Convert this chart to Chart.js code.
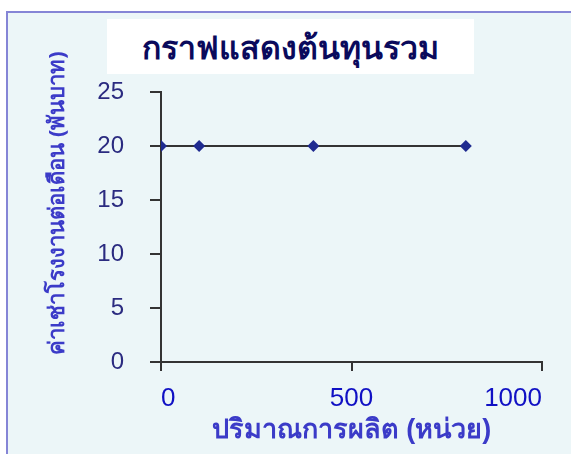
<!DOCTYPE html>
<html>
<head>
<meta charset="utf-8">
<script src="https://cdn.jsdelivr.net/npm/chart.js@4"></script>
<style>
  body { margin: 0; width: 571px; height: 454px; overflow: hidden; background: #fff; position: relative; }
  .frame { position: absolute; left: 6px; top: 11px; width: 600px; height: 500px; border: 2px solid #8585d6; background: #ecf6f8; }
  .title-box { position: absolute; left: 107px; top: 19px; width: 367px; height: 55px; background: #fff;
    font: bold 32px "Noto Sans", sans-serif; color: #0a0a5c; text-align: center; line-height: 55px; }
  .chart-wrap { position: absolute; left: 0; top: 0; width: 571px; height: 454px; }
</style>
</head>
<body>
<div class="frame"></div>
<div class="title-box">กราฟแสดงต้นทุนรวม</div>
<div class="chart-wrap"><canvas id="cost_chart" width="571" height="454"></canvas></div>
<script>
// ปริมาณการผลิต (หน่วย)
var units = [0, 100, 400, 800];
// ค่าเช่าโรงงานต่อเดือน (พันบาท)
var rent = [20, 20, 20, 20];
var xTicks = [0, 500, 1000];
var yTicks = [0, 5, 10, 15, 20, 25];
var yTitle = 'ค่าเช่าโรงงานต่อเดือน (พันบาท)';

var points = units.map(function (u, i) { return {x: u, y: rent[i]}; });

// y title sits a bit above the middle of the axis, like the original
const yTitlePlugin = {
    id: 'yTitle',
    afterDraw: function (chart) {
        const ctx = chart.ctx;
        ctx.save();
        ctx.translate(58, 203);
        ctx.rotate(-Math.PI / 2);
        ctx.font = 'bold 22px "Noto Sans", sans-serif';
        ctx.fillStyle = '#3b3bc8';
        ctx.textAlign = 'center';
        ctx.textBaseline = 'middle';
        ctx.fillText(yTitle, 0, 0);
        ctx.restore();
    }
};

const costChart = new Chart(document.getElementById('cost_chart'), {
    type: 'scatter',
    data: {
        datasets: [{
            data: points,
            showLine: true,
            borderColor: '#333333',
            borderWidth: 2,
            pointStyle: 'rectRot',
            pointRadius: 6,
            pointBackgroundColor: '#1f2b90',
            pointBorderColor: '#1f2b90',
            pointBorderWidth: 0
        }]
    },
    options: {
        responsive: false,
        animation: false,
        layout: {padding: {left: 49, top: 92, right: 29, bottom: 3}},
        plugins: {legend: {display: false}, tooltip: {enabled: false}},
        scales: {
            x: {
                type: 'linear', min: 0, max: 1000,
                afterBuildTicks: function (s) { s.ticks = xTicks.map(function (v) { return {value: v}; }); },
                afterFit: function (s) { s.height = 89; s.paddingLeft = 0; s.paddingRight = 0; },
                border: {color: '#333333', width: 2},
                grid: {drawOnChartArea: false, tickLength: 9, color: '#333333', lineWidth: 2},
                ticks: {color: '#1010c4', font: {family: 'Arial, "Liberation Sans"', size: 26}, padding: 12, maxRotation: 0,
                    align: 'inner', callback: function (v) { return String(v); }},
                title: {display: true, text: 'ปริมาณการผลิต (หน่วย)', color: '#3b3bc8', font: {size: 27, weight: 'bold'}}
            },
            y: {
                min: 0, max: 25,
                afterBuildTicks: function (s) { s.ticks = yTicks.map(function (v) { return {value: v}; }); },
                afterFit: function (s) { s.width = 112; s.paddingTop = 0; s.paddingBottom = 0; },
                border: {color: '#333333', width: 2},
                grid: {drawOnChartArea: false, tickLength: 11, color: '#333333', lineWidth: 2},
                ticks: {color: '#2b2b80', font: {family: 'Arial, "Liberation Sans"', size: 24}, padding: 26}
            }
        }
    },
    plugins: [yTitlePlugin]
});
</script>
</body>
</html>
